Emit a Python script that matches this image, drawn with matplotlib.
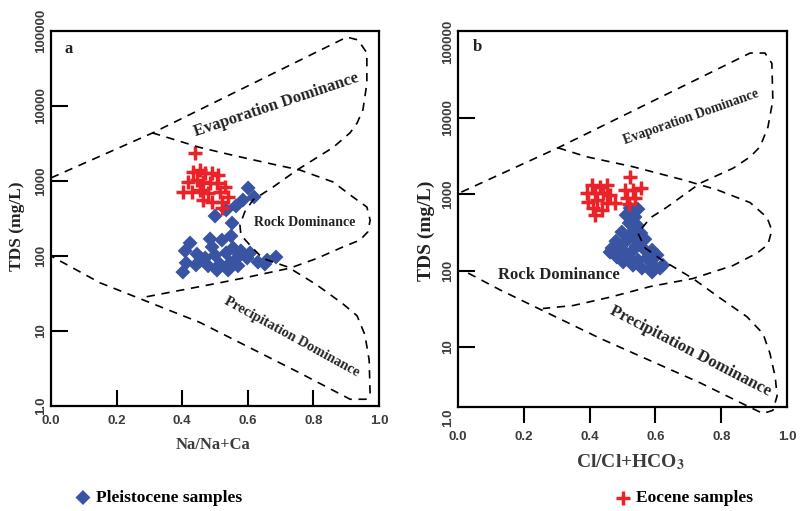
import matplotlib
matplotlib.use('Agg')
import matplotlib.pyplot as plt

plt.rcParams['mathtext.fontset'] = 'stix'

SERIF = 'Liberation Serif'
SANS = 'Liberation Sans'
BLUE = '#3a54a4'
RED = '#ec2229'
GREY = '#3c3c3c'

# ---- panel a : Na/(Na+Ca) vs TDS ----
a_pleist_x = [0.601, 0.619, 0.585, 0.564, 0.534, 0.500, 0.552, 0.549, 0.521, 0.485,
              0.424, 0.555, 0.579, 0.607, 0.534, 0.500, 0.445, 0.409, 0.470, 0.564,
              0.598, 0.631, 0.659, 0.686, 0.546, 0.515, 0.479, 0.442, 0.412, 0.570,
              0.540, 0.506, 0.402, 0.454, 0.652, 0.491]
a_pleist_tds = [807, 612, 558, 464, 411, 341, 275, 185, 163, 169,
                149, 128, 117, 110, 110, 103, 106, 117, 94, 91,
                94, 83, 88, 97, 81, 78, 74, 76, 81, 74,
                65, 65, 61, 86, 78, 132]
a_eoc_x = [0.439, 0.434, 0.454, 0.470, 0.490, 0.510, 0.419, 0.444, 0.464, 0.485,
           0.505, 0.530, 0.403, 0.429, 0.454, 0.480, 0.515, 0.541, 0.464, 0.490,
           0.520, 0.520]
a_eoc_tds = [2350, 1330, 1400, 1260, 1260, 1200, 980, 1020, 980, 930,
             930, 830, 720, 720, 760, 690, 720, 620, 560, 520,
             520, 440]

# Gibbs boundaries, panel a
a_outer_x = [0.0, 0.311, 0.902, 0.936, 0.963, 0.963, 0.951, 0.933, 0.912, 0.860,
             0.750, 0.677, 0.616, 0.591, 0.576, 0.579, 0.613, 0.646, 0.723, 0.811,
             0.890, 0.933, 0.957, 0.970, 0.973, 0.960, 0.912, 0.759, 0.454, 0.149, 0.0]
a_outer_tds = [1100, 4400, 83000, 76000, 51000, 20000, 8900, 5900, 4400, 2800,
               1400, 830, 560, 390, 260, 190, 130, 93, 71, 41,
               23, 16, 8.9, 4.1, 1.4, 1.23, 1.23, 2.75, 13, 44, 100]
a_rock_x = [0.308, 0.454, 0.555, 0.659, 0.759, 0.860, 0.921, 0.963, 0.973, 0.966,
            0.942, 0.890, 0.811, 0.729, 0.598, 0.515, 0.280]
a_rock_tds = [4400, 2800, 2200, 1740, 1400, 970, 610, 450, 300, 210,
              163, 132, 93, 69, 52, 44, 28]

# ---- panel b : Cl/(Cl+HCO3) vs TDS ----
b_pleist_x = [0.523, 0.547, 0.511, 0.538, 0.520, 0.544, 0.498, 0.529, 0.556, 0.480,
              0.514, 0.544, 0.568, 0.468, 0.498, 0.532, 0.562, 0.590, 0.483, 0.517,
              0.547, 0.574, 0.605, 0.623, 0.593, 0.559, 0.590, 0.614, 0.532, 0.502,
              0.462, 0.541]
b_pleist_tds = [661, 641, 535, 505, 421, 396, 321, 321, 311, 244,
                252, 252, 259, 198, 192, 186, 198, 186, 151, 151,
                138, 146, 160, 118, 118, 108, 96, 108, 118, 130,
                175, 210]
b_eoc_x = [0.407, 0.432, 0.453, 0.392, 0.416, 0.441, 0.462, 0.395, 0.422, 0.453,
           0.477, 0.410, 0.438, 0.416, 0.523, 0.508, 0.532, 0.556, 0.514, 0.538,
           0.520]
b_eoc_tds = [1325, 1247, 1325, 1040, 1040, 1040, 980, 792, 841, 770,
             770, 661, 622, 535, 1686, 1138, 1138, 1210, 893, 893,
             746]

b_outer_x = [0.01, 0.304, 0.888, 0.933, 0.954, 0.957, 0.942, 0.918, 0.888, 0.836,
             0.736, 0.635, 0.584, 0.547, 0.568, 0.620, 0.714, 0.796, 0.878, 0.927,
             0.948, 0.964, 0.970, 0.957, 0.927, 0.888, 0.736, 0.432, 0.128, 0.027]
b_outer_tds = [1070, 4070, 71000, 71000, 52000, 17000, 7600, 4200, 3100, 2200,
               1400, 680, 490, 310, 200, 138, 79, 44, 25, 15,
               8.3, 4.1, 2.3, 1.48, 1.35, 1.62, 3.4, 13, 56, 95]
b_rock_x = [0.304, 0.392, 0.532, 0.684, 0.787, 0.888, 0.939, 0.954, 0.942, 0.909,
            0.836, 0.714, 0.584, 0.462, 0.350, 0.258]
b_rock_tds = [4070, 3100, 2300, 1550, 1150, 780, 500, 340, 220, 170,
              117, 79, 62, 45, 35, 32]

major_x = [0.2, 0.4, 0.6, 0.8]
edge_x = [0.0, 1.0]
major_y = [10, 100, 1000, 10000]
y_labels = ['10', '100', '1000', '10000']

W, H = 804, 511
fig = plt.figure(figsize=(W / 100, H / 100), dpi=100)
ax_a = fig.add_axes([51 / W, 1 - 406 / H, 328 / W, 375 / H])
ax_b = fig.add_axes([458 / W, 1 - 407 / H, 329 / W, 376 / H])

tick_font = dict(family=SANS, weight='bold', size=9.5, color=GREY)


def style(ax, ylim, xdir, xpad):
    ax.set_xlim(0, 1)
    ax.set_yscale('log')
    ax.set_ylim(*ylim)
    ax.set_xticks(major_x, labels=[f'{v:.1f}' for v in major_x], **tick_font)
    ax.set_xticks(edge_x, labels=['0.0', '1.0'], minor=True, **tick_font)
    ax.set_yticks(major_y, labels=y_labels, rotation=90, va='center', **tick_font)
    ax.tick_params(axis='x', which='major', direction=xdir, length=11.5,
                   width=1.5, pad=xpad)
    minor_pad = xpad + (11.5 if xdir == 'out' else 0)
    ax.tick_params(axis='x', which='minor', length=0, pad=minor_pad)
    ax.tick_params(axis='y', which='major', direction='in', length=12.5,
                   width=1.5, pad=3)
    ax.tick_params(axis='y', which='minor', length=0, pad=3)
    for s in ax.spines.values():
        s.set_linewidth(1.6)


style(ax_a, (1, 1e5), 'in', 6.5)
ax_a.set_yticks([1, 1e5], labels=['1.0', '100000'], minor=True,
                rotation=90, va='center', **tick_font)
style(ax_b, (1.64, 1.38e5), 'out', 5.8)
ax_b.set_yticks([1e5], labels=['100000'], minor=True,
                rotation=90, va='center', **tick_font)
ax_b.text(-10 / 329, 1.2, '1.0', transform=ax_b.get_yaxis_transform(),
          rotation=90, ha='center', va='center', clip_on=False, **tick_font)

dash = dict(color='black', lw=1.2, dashes=(5, 4), zorder=4, clip_on=False)
ax_a.plot(a_outer_x, a_outer_tds, **dash)
ax_a.plot(a_rock_x, a_rock_tds, **dash)
ax_b.plot(b_outer_x, b_outer_tds, **dash)
ax_b.plot(b_rock_x, b_rock_tds, **dash)

dia = dict(marker='D', s=58, color=BLUE, edgecolors='none', zorder=3)
plus = dict(marker='+', s=95, color=RED, linewidths=2.5, zorder=3)
h_p = ax_a.scatter(a_pleist_x, a_pleist_tds, **dia)
ax_a.scatter(a_eoc_x, a_eoc_tds, **plus)
ax_b.scatter(b_pleist_x, b_pleist_tds, **dia)
h_e = ax_b.scatter(b_eoc_x, b_eoc_tds, **plus)

lab = dict(family=SERIF, weight='bold', color='#222222',
           ha='center', va='center', rotation_mode='anchor')
ax_a.text(0.686, 10300, 'Evaporation Dominance', size=12, rotation=18.5, **lab)
ax_a.text(0.774, 284, 'Rock Dominance', size=10, **lab)
ax_a.text(0.735, 8.3, 'Precipitation Dominance', size=10.3, rotation=-28.8, **lab)
ax_a.text(0.055, 57000, 'a', size=12, **lab)

ax_b.text(0.708, 10300, 'Evaporation Dominance', size=9.9, rotation=19.5, **lab)
ax_b.text(0.307, 87, 'Rock Dominance', size=12, **lab)
ax_b.text(0.705, 8.8, 'Precipitation Dominance', size=12.2, rotation=-27.4, **lab)
ax_b.text(0.058, 85000, 'b', size=12, **lab)

axlab = dict(family=SERIF, weight='bold', ha='center', va='center')
fig.text(17 / W, 1 - 226 / H, 'TDS (mg/L)', size=12.5, rotation=90, color='#222222', **axlab)
fig.text(426 / W, 1 - 231 / H, 'TDS (mg/L)', size=14, rotation=90, color='#222222', **axlab)
fig.text(213 / W, 1 - 445 / H, 'Na/Na+Ca', size=12, color=GREY, **axlab)
fig.text(630 / W, 1 - 462 / H, r'Cl/Cl+HCO$_{\mathbf{3}}$', size=14, color=GREY, **axlab)

leg_font = dict(family=SERIF, weight='bold', size=12.5)
ax_a.legend([h_p], ['Pleistocene samples'], loc='center left',
            bbox_to_anchor=(76 / W, 1 - 498 / H), bbox_transform=fig.transFigure,
            frameon=False, prop=leg_font, scatterpoints=1, handlelength=0.8,
            handletextpad=0.35, borderpad=0, borderaxespad=0)
ax_b.legend([h_e], ['Eocene samples'], loc='center left',
            bbox_to_anchor=(616 / W, 1 - 498 / H), bbox_transform=fig.transFigure,
            frameon=False, prop=leg_font, scatterpoints=1, handlelength=0.8,
            handletextpad=0.35, borderpad=0, borderaxespad=0)

fig.savefig('out.png', dpi=100)
